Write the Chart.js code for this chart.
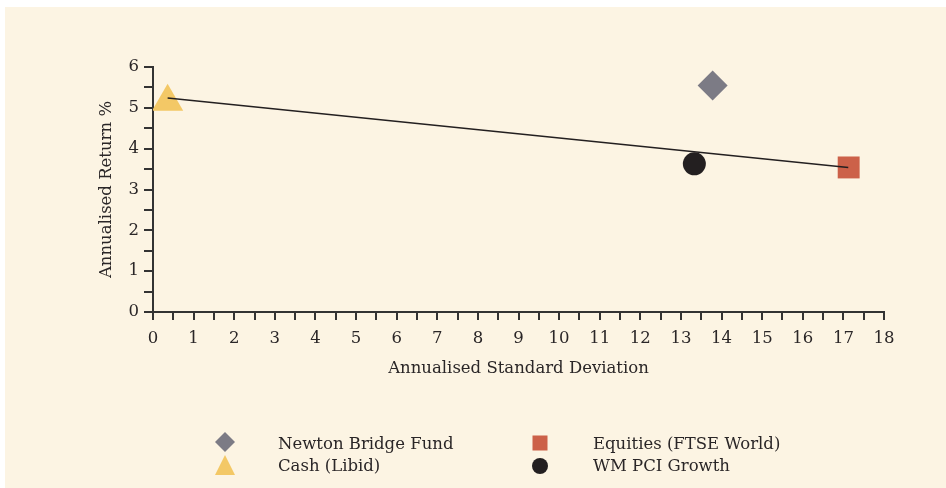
<!DOCTYPE html>
<html>
<head>
<meta charset="utf-8">
<script src="https://cdn.jsdelivr.net/npm/chart.js@4.4.1/dist/chart.umd.min.js"></script>
<style>
  html, body { margin: 0; padding: 0; background: #ffffff; }
  #wrap { position: relative; width: 946px; height: 488px; overflow: hidden; }
  #panel { position: absolute; left: 5px; top: 7px; right: 0; bottom: 0; background: #fcf4e3; }
  #chart { position: absolute; left: 0; top: 0; }
  .lg { position: absolute; font-family: "DejaVu Serif", serif; font-size: 16.5px; color: #2a2627; line-height: 20px; white-space: nowrap; }
  #markers { position: absolute; left: 0; top: 0; }
</style>
</head>
<body>
<div id="wrap">
  <div id="panel"></div>
  <canvas id="chart" width="946" height="488"></canvas>
  <svg id="markers" width="946" height="488"></svg>
  <div id="legend"></div>
</div>
<script>
// ---- data ----
const seriesNames = ['Newton Bridge Fund', 'Cash (Libid)', 'Equities (FTSE World)', 'WM PCI Growth'];
const stdDev  = [13.78, 0.36, 17.13, 13.33];   // x: annualised standard deviation
const returns = [5.55, 5.15, 3.54, 3.63];      // y: annualised return %
const fitX = [0.36, 17.12];                    // trend line ends
const fitY = [5.24, 3.54];

const xTicks = [0, 18];
const yTicks = [0, 6];

// ---- styling ----
const colors  = ['#7c7b85', '#f3c866', '#cc6149', '#231f20'];
const shapes  = ['rectRot', 'triangle', 'rect', 'circle'];
const radii   = [15, 18, 15.5, 11.5];
const FONT = "'DejaVu Serif', serif";
const INK = '#2a2627';

const datasets = [{
    label: 'trend',
    data: fitX.map((x, i) => ({ x: x, y: fitY[i] })),
    showLine: true,
    borderColor: '#231f20',
    borderWidth: 1.5,
    pointRadius: 0
}];
seriesNames.forEach((name, i) => {
    datasets.push({
        label: name,
        data: [{ x: stdDev[i], y: returns[i] }],
        pointStyle: shapes[i],
        pointRadius: radii[i],
        pointHoverRadius: radii[i],
        backgroundColor: colors[i],
        borderColor: colors[i],
        pointBorderWidth: 0
    });
});

function halfTicks(min, max) {
    return (axis) => {
        axis.ticks = [];
        for (let v = min; v <= max + 1e-9; v += 0.5) axis.ticks.push({ value: v });
    };
}

new Chart(document.getElementById('chart'), {
    type: 'scatter',
    data: { datasets: datasets },
    options: {
        responsive: false,
        animation: false,
        events: [],
        layout: { padding: { left: 90, top: 67, right: 62, bottom: 106 } },
        plugins: { legend: { display: false }, tooltip: { enabled: false } },
        scales: {
            x: {
                min: xTicks[0], max: xTicks[1],
                afterBuildTicks: halfTicks(xTicks[0], xTicks[1]),
                afterFit: (s) => { s.height = 70; },
                border: { color: '#333', width: 2 },
                grid: { drawOnChartArea: false, drawTicks: true, tickLength: 8, color: '#333', lineWidth: 2 },
                ticks: {
                    autoSkip: false, maxRotation: 0, padding: 9, color: INK,
                    font: { family: FONT, size: 16.5 },
                    callback: (v) => Number.isInteger(v) ? String(v) : ''
                },
                title: { display: true, text: 'Annualised Standard Deviation', color: INK,
                         font: { family: FONT, size: 16.5 }, padding: { top: 0, bottom: 3 } }
            },
            y: {
                min: yTicks[0], max: yTicks[1],
                afterBuildTicks: halfTicks(yTicks[0], yTicks[1]),
                afterFit: (s) => { s.width = 63; },
                border: { color: '#333', width: 2 },
                grid: { drawOnChartArea: false, drawTicks: true, tickLength: 9, color: '#333', lineWidth: 2 },
                ticks: {
                    autoSkip: false, padding: 5, color: INK,
                    font: { family: FONT, size: 16.5 },
                    callback: (v) => Number.isInteger(v) ? String(v) : ''
                },
                title: { display: true, text: 'Annualised Return %', color: INK,
                         font: { family: FONT, size: 16.5 }, padding: { top: 7, bottom: 0 } }
            }
        }
    }
});

// ---- legend (2 x 2, markers left of each label) ----
const legendPos = [
    { mx: 225, my: 442, tx: 278, ty: 434 },
    { mx: 225, my: 466, tx: 278, ty: 456 },
    { mx: 540, my: 443, tx: 593, ty: 434 },
    { mx: 540, my: 466, tx: 593, ty: 456 }
];
const svg = document.getElementById('markers');
const legendDiv = document.getElementById('legend');
let marks = '';
legendPos.forEach((p, i) => {
    const c = colors[i];
    if (shapes[i] === 'rectRot') {
        marks += `<polygon points="${p.mx},${p.my - 10} ${p.mx + 10},${p.my} ${p.mx},${p.my + 10} ${p.mx - 10},${p.my}" fill="${c}"/>`;
    } else if (shapes[i] === 'triangle') {
        marks += `<polygon points="${p.mx},${p.my - 11} ${p.mx + 10},${p.my + 9} ${p.mx - 10},${p.my + 9}" fill="${c}"/>`;
    } else if (shapes[i] === 'rect') {
        marks += `<rect x="${p.mx - 7.5}" y="${p.my - 7.5}" width="15" height="15" fill="${c}"/>`;
    } else {
        marks += `<circle cx="${p.mx}" cy="${p.my}" r="8" fill="${c}"/>`;
    }
    const d = document.createElement('div');
    d.className = 'lg';
    d.style.left = p.tx + 'px';
    d.style.top = p.ty + 'px';
    d.textContent = seriesNames[i];
    legendDiv.appendChild(d);
});
svg.innerHTML = marks;
</script>
</body>
</html>
